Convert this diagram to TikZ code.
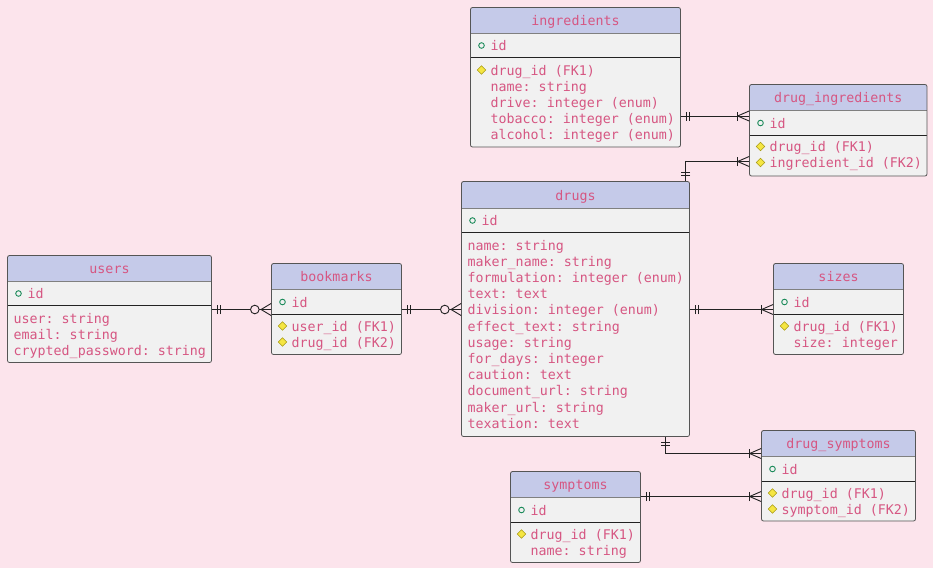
\documentclass[tikz,border=0pt]{standalone}
\usepackage{fontspec}
\setmonofont{DejaVu Sans Mono}
\usetikzlibrary{decorations.markings,calc}
\definecolor{bgc}{HTML}{FCE4EC}
\definecolor{hdrc}{HTML}{C5CAE9}
\definecolor{bodyc}{HTML}{F1F1F1}
\definecolor{txtc}{HTML}{D65682}
\definecolor{pkc}{HTML}{1E8C5C}
\definecolor{fkc}{HTML}{F5E642}
\definecolor{fkd}{HTML}{A89B1A}
\definecolor{bordc}{HTML}{555555}
\definecolor{hlc}{HTML}{808080}
\definecolor{linec}{HTML}{222222}
\newcommand\ertbl[8]{%
  \begin{scope}
    \clip[rounded corners=2pt] (#2,#3) rectangle (#4,#7);
    \fill[bodyc] (#2,#3) rectangle (#4,#7);
    \fill[hdrc] (#2,#3) rectangle (#4,#5);
  \end{scope}
  \draw[hlc, line width=0.8pt] (#2,#5) -- (#4,#5);
  \draw[linec, line width=0.9pt] (#2,#6) -- (#4,#6);
  \node[tbl, minimum width={(#4-#2)*1pt}, minimum height={(#7-#3)*1pt}] (#1) at ({(#2+#4)/2},{(#3+#7)/2}) {};
  \node[ttl] (#1-title) at ({(#2+#4)/2},{(#3+#5)/2}) {#8};
}
\newcommand\pkic[2]{\draw[pkmark] (#1,#2) circle (2.8pt);}
\newcommand\fkic[2]{\draw[fkmark] (#1,#2-4.3) -- (#1+4.3,#2) -- (#1,#2+4.3) -- (#1-4.3,#2) -- cycle;}
\begin{document}
\begin{tikzpicture}[x=1pt,y=-1pt,
  font=\ttfamily\fontsize{13.3}{16}\selectfont,
  tbl/.style={draw=bordc, rounded corners=2pt, inner sep=0pt, line width=0.8pt},
  ttl/.style={text=txtc, inner sep=0pt, text height=10pt, text depth=3pt, yshift=-1.5pt},
  fld/.style={text=txtc, anchor=west, inner sep=0pt, text height=10pt, text depth=3pt, yshift=-1.5pt},
  pkmark/.style={draw=pkc, line width=0.9pt},
  fkmark/.style={fill=fkc, draw=fkd, line width=0.5pt},
  conn/.style={draw=linec, line width=0.9pt},
  mk/.style={draw=linec, line width=0.9pt},
  oneone start/.style={postaction={decorate, decoration={markings,
     mark=at position 5.5pt with {\draw[mk] (0pt,-4.5pt) -- (0pt,4.5pt);},
     mark=at position 8.5pt with {\draw[mk] (0pt,-4.5pt) -- (0pt,4.5pt);}}}},
  onemany end/.style={postaction={decorate, decoration={markings,
     mark=at position -11.5pt with {\draw[mk] (0pt,-4.5pt) -- (0pt,4.5pt);
        \draw[mk] (0pt,0pt) -- (11.5pt,5pt); \draw[mk] (0pt,0pt) -- (11.5pt,-5pt);}}}},
  zeromany end/.style={postaction={decorate, decoration={markings,
     mark=at position -16.3pt with {\draw[mk, fill=bgc] (0pt,0pt) circle (4.3pt);},
     mark=at position -10pt with {\draw[mk] (0pt,0pt) -- (10pt,6pt); \draw[mk] (0pt,0pt) -- (10pt,-6pt);}}}}
]
\fill[bgc] (0,0) rectangle (933,568);
\useasboundingbox (0,0) rectangle (933,568);

% ingredients
\ertbl{ingredients}{470.5}{7.5}{680.5}{33.5}{57.5}{147}{ingredients}
\pkic{481.5}{45.5}
\node[fld] (ing-id) at (490.5,45.5) {id};
\fkic{481.5}{70}
\node[fld] (ing-f1) at (490.5,70) {drug\_id (FK1)};
\node[fld] (ing-f2) at (490.5,86.2) {name: string};
\node[fld] (ing-f3) at (490.5,102.4) {drive: integer (enum)};
\node[fld] (ing-f4) at (490.5,118.6) {tobacco: integer (enum)};
\node[fld] (ing-f5) at (490.5,134.8) {alcohol: integer (enum)};

% drug_ingredients
\ertbl{druging}{749.5}{84.5}{927}{110}{135.5}{176}{drug\_ingredients}
\pkic{760.5}{123}
\node[fld] (di-id) at (769.5,123) {id};
\fkic{760.5}{146.5}
\node[fld] (di-f1) at (769.5,146.5) {drug\_id (FK1)};
\fkic{760.5}{162.5}
\node[fld] (di-f2) at (769.5,162.5) {ingredient\_id (FK2)};

% drugs
\ertbl{drugs}{461.5}{181.5}{689.5}{208.5}{232.5}{436.5}{drugs}
\pkic{472.5}{220.5}
\node[fld] (dr-id) at (481.5,220.5) {id};
\node[fld] (dr-f1) at (467.5,245) {name: string};
\node[fld] (dr-f2) at (467.5,261.2) {maker\_name: string};
\node[fld] (dr-f3) at (467.5,277.4) {formulation: integer (enum)};
\node[fld] (dr-f4) at (467.5,293.6) {text: text};
\node[fld] (dr-f5) at (467.5,309.8) {division: integer (enum)};
\node[fld] (dr-f6) at (467.5,326) {effect\_text: string};
\node[fld] (dr-f7) at (467.5,342.2) {usage: string};
\node[fld] (dr-f8) at (467.5,358.4) {for\_days: integer};
\node[fld] (dr-f9) at (467.5,374.6) {caution: text};
\node[fld] (dr-f10) at (467.5,390.8) {document\_url: string};
\node[fld] (dr-f11) at (467.5,407) {maker\_url: string};
\node[fld] (dr-f12) at (467.5,423.2) {texation: text};

% users
\ertbl{users}{7.5}{255.5}{211.5}{281.5}{305.5}{362.5}{users}
\pkic{18.5}{293.5}
\node[fld] (us-id) at (27.5,293.5) {id};
\node[fld] (us-f1) at (13.5,318) {user: string};
\node[fld] (us-f2) at (13.5,334.2) {email: string};
\node[fld] (us-f3) at (13.5,350.4) {crypted\_password: string};

% bookmarks
\ertbl{bookmarks}{271.5}{263.5}{401.5}{289.5}{314}{354.5}{bookmarks}
\pkic{282.5}{302}
\node[fld] (bm-id) at (291.5,302) {id};
\fkic{282.5}{326}
\node[fld] (bm-f1) at (291.5,326) {user\_id (FK1)};
\fkic{282.5}{342}
\node[fld] (bm-f2) at (291.5,342) {drug\_id (FK2)};

% sizes
\ertbl{sizes}{773.5}{263.5}{903.5}{289.5}{314.5}{354.5}{sizes}
\pkic{784.5}{302}
\node[fld] (sz-id) at (793.5,302) {id};
\fkic{784.5}{326}
\node[fld] (sz-f1) at (793.5,326) {drug\_id (FK1)};
\node[fld] (sz-f2) at (793.5,342) {size: integer};

% drug_symptoms
\ertbl{drugsym}{761.5}{430.5}{915.5}{456.5}{481.5}{521}{drug\_symptoms}
\pkic{772.5}{469}
\node[fld] (ds-id) at (781.5,469) {id};
\fkic{772.5}{493}
\node[fld] (ds-f1) at (781.5,493) {drug\_id (FK1)};
\fkic{772.5}{509}
\node[fld] (ds-f2) at (781.5,509) {symptom\_id (FK2)};

% symptoms
\ertbl{symptoms}{510.5}{471.5}{640.5}{497.5}{522.5}{562.5}{symptoms}
\pkic{521.5}{510}
\node[fld] (sy-id) at (530.5,510) {id};
\fkic{521.5}{534}
\node[fld] (sy-f1) at (530.5,534) {drug\_id (FK1)};
\node[fld] (sy-f2) at (530.5,550) {name: string};

% connectors
\draw[conn, oneone start, onemany end] (ingredients.east |- 0,116) -- (druging.west |- 0,116);
\draw[conn, oneone start, onemany end] (drugs.north -| 685.5,0) |- (druging.west |- 0,161.5);
\draw[conn, oneone start, zeromany end] (users.east |- 0,309.5) -- (bookmarks.west |- 0,309.5);
\draw[conn, oneone start, zeromany end] (bookmarks.east |- 0,309.5) -- (drugs.west |- 0,309.5);
\draw[conn, oneone start, onemany end] (drugs.east |- 0,309.5) -- (sizes.west |- 0,309.5);
\draw[conn, oneone start, onemany end] (drugs.south -| 665.5,0) |- (drugsym.west |- 0,453.5);
\draw[conn, oneone start, onemany end] (symptoms.east |- 0,496.5) -- (drugsym.west |- 0,496.5);
\end{tikzpicture}
\end{document}
